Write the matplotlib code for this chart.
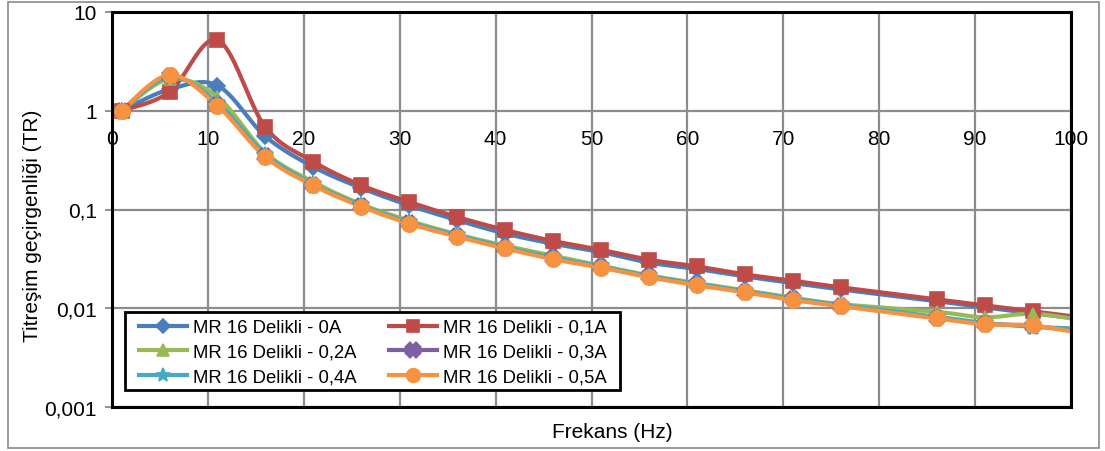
import numpy as np
import matplotlib
matplotlib.use("Agg")
import matplotlib.pyplot as plt
from matplotlib.patches import Rectangle
from matplotlib.ticker import FixedLocator, FixedFormatter, NullLocator

plt.rcParams['font.family'] = ['Liberation Sans', 'DejaVu Sans']

# Frequencies (Hz)
freq = [1, 6, 11, 16, 21, 26, 31, 36, 41, 46, 51, 56, 61, 66, 71, 76, 86, 91, 96, 101]

# Transmissibility for each current level
tr_0A = [1.0, 1.65, 1.8, 0.55, 0.27, 0.165, 0.11, 0.078, 0.057, 0.045, 0.037, 0.029,
         0.025, 0.021, 0.018, 0.0155, 0.0118, 0.0102, 0.0089, 0.0078]
tr_01A = [1.0, 1.55, 5.2, 0.68, 0.305, 0.176, 0.119, 0.084, 0.062, 0.048, 0.039, 0.031,
          0.0265, 0.022, 0.019, 0.0163, 0.0123, 0.0107, 0.0093, 0.0081]
tr_02A = [1.0, 2.1, 1.38, 0.375, 0.19, 0.113, 0.077, 0.056, 0.043, 0.034, 0.027, 0.0215,
          0.018, 0.0152, 0.0128, 0.011, 0.0092, 0.0081, 0.0088, 0.0076]
tr_03A = [1.0, 2.25, 1.15, 0.35, 0.178, 0.109, 0.073, 0.054, 0.041, 0.032, 0.026, 0.021,
          0.0174, 0.0147, 0.0123, 0.0106, 0.0080, 0.0070, 0.0066, 0.0058]
tr_04A = [1.0, 2.2, 1.2, 0.36, 0.18, 0.11, 0.074, 0.055, 0.0415, 0.0325, 0.0265, 0.021,
          0.0176, 0.0149, 0.0125, 0.0108, 0.0082, 0.0071, 0.0065, 0.0062]
tr_05A = [1.0, 2.3, 1.12, 0.34, 0.175, 0.107, 0.072, 0.053, 0.0403, 0.0314, 0.0258, 0.0206,
          0.0171, 0.0145, 0.0121, 0.0105, 0.0079, 0.0069, 0.0067, 0.0056]

labels = ["MR 16 Delikli - 0A", "MR 16 Delikli - 0,1A", "MR 16 Delikli - 0,2A",
          "MR 16 Delikli - 0,3A", "MR 16 Delikli - 0,4A", "MR 16 Delikli - 0,5A"]
x_ticks = [0, 10, 20, 30, 40, 50, 60, 70, 80, 90, 100]
y_ticks = [0.001, 0.01, 0.1, 1, 10]
y_tick_labels = ["0,001", "0,01", "0,1", "1", "10"]

series = [tr_0A, tr_01A, tr_02A, tr_03A, tr_04A, tr_05A]
colors = ['#4A7EBB', '#BE4B48', '#98B954', '#7D60A0', '#46AAC5', '#F69240']
markers = ['D', 's', '^', 'X', '*', 'o']
msizes = [8, 10, 9, 9, 12, 11]


def smooth_curve(x, y, n=24):
    """Catmull-Rom style Bezier smoothing in (x, log10 y) space."""
    pts = np.column_stack([np.asarray(x, float), np.log10(np.asarray(y, float))])
    P = np.vstack([pts[0], pts, pts[-1]])
    t = np.linspace(0, 1, n)[:, None]
    out = []
    for i in range(1, len(P) - 2):
        p0, p1, p2, p3 = P[i - 1], P[i], P[i + 1], P[i + 2]
        c1 = p1 + (p2 - p0) / 6.0
        c2 = p2 - (p3 - p1) / 6.0
        seg = ((1 - t) ** 3) * p1 + 3 * ((1 - t) ** 2) * t * c1 + 3 * (1 - t) * t ** 2 * c2 + t ** 3 * p2
        out.append(seg if i == 1 else seg[1:])
    out = np.vstack(out)
    return out[:, 0], 10 ** out[:, 1]


W, H = 1105, 452
fig = plt.figure(figsize=(W / 100, H / 100), dpi=100)
fig.patch.set_facecolor('white')

# outer chart border
fig.patches.append(Rectangle((8 / W, 3 / H), 1091 / W, 446 / H, transform=fig.transFigure,
                             fill=False, edgecolor='#8A8A8A', linewidth=1.2))

ax = fig.add_axes([112 / W, 1 - 408 / H, (1071 - 112) / W, (408 - 13) / H])
ax.set_yscale('log')
ax.set_xlim(0, 100)
ax.set_ylim(0.001, 10)

handles = []
for ys, c, m, ms, lab in zip(series, colors, markers, msizes, labels):
    sx, sy = smooth_curve(freq, ys)
    ax.plot(sx, sy, color=c, lw=3, solid_capstyle='round', zorder=3)
    mew = 3 if m == 'X' else 1.2
    ax.plot(freq, ys, linestyle='none', marker=m, markersize=ms, color=c,
            markeredgecolor=c, markeredgewidth=mew, zorder=4)
    h, = ax.plot([], [], color=c, lw=3, marker=m, markersize=ms * 0.9,
                 markeredgecolor=c, markeredgewidth=mew, label=lab)
    handles.append(h)

# grid
ax.xaxis.set_major_locator(FixedLocator(x_ticks))
ax.yaxis.set_major_locator(FixedLocator(y_ticks))
ax.yaxis.set_major_formatter(FixedFormatter(y_tick_labels))
ax.yaxis.set_minor_locator(NullLocator())
ax.xaxis.set_minor_locator(NullLocator())
ax.grid(True, which='major', color='#8C8C8C', linewidth=1.6, zorder=0)
ax.set_axisbelow(True)
ax.tick_params(axis='x', bottom=False, labelbottom=False)
ax.tick_params(axis='y', direction='out', length=5, width=1.2, color='#7F7F7F',
               labelsize=15, pad=6)

for side in ['top', 'right', 'bottom', 'left']:
    ax.spines[side].set_color('black')
    ax.spines[side].set_linewidth(2.2)
    ax.spines[side].set_zorder(5)

# horizontal axis labels sit on the y = 1 line
secax = ax.secondary_xaxis(0.75)
secax.set_alignment('bottom')
secax.xaxis.set_major_locator(FixedLocator(x_ticks))
secax.xaxis.set_minor_locator(NullLocator())
secax.set_xticklabels([str(v) for v in x_ticks])
secax.tick_params(axis='x', length=0, labelsize=15, pad=13)
for s in secax.spines.values():
    s.set_visible(False)

fig.text(33 / W, 1 - 226 / H, "Titreşim geçirgenliği (TR)", rotation=90,
         ha='center', va='center', fontsize=15)
fig.text(612 / W, 1 - 433 / H, "Frekans (Hz)", ha='center', va='center', fontsize=15)

# legend box
fig.patches.append(Rectangle((125 / W, 1 - 391 / H), 495 / W, 78 / H, transform=fig.transFigure,
                             facecolor='white', edgecolor='black', linewidth=2, zorder=8))

order = [0, 2, 4, 1, 3, 5]
leg = fig.legend([handles[i] for i in order], [labels[i] for i in order], ncol=2,
                 loc='upper left', bbox_to_anchor=(139 / W, 1 - 320 / H),
                 fontsize=13.3, frameon=False, borderpad=0, labelspacing=0.42,
                 handlelength=2.6, handletextpad=0.3, columnspacing=1.8, borderaxespad=0)
leg.set_zorder(10)

fig.savefig("out.png", dpi=100)
